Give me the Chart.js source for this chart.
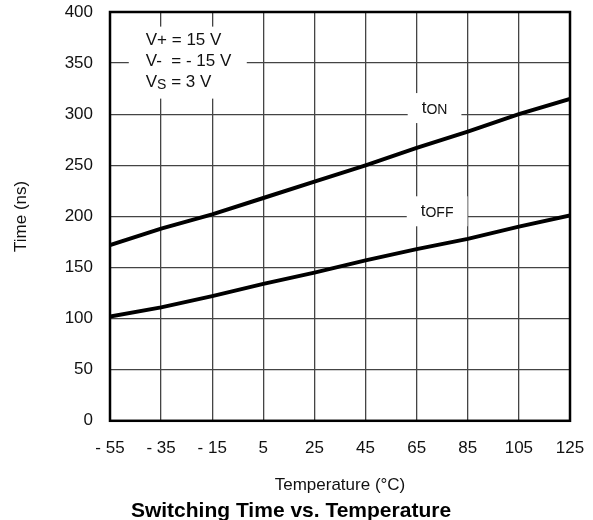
<!DOCTYPE html>
<html>
<head>
<meta charset="utf-8">
<script src="https://cdn.jsdelivr.net/npm/chart.js@4/dist/chart.umd.min.js"></script>
<style>
  html, body { margin: 0; padding: 0; background: #fff; }
  #wrap { width: 593px; height: 520px; }
</style>
</head>
<body>
<div id="wrap"><canvas id="chart"></canvas></div>
<script>
// values
var temps = [-55, -35, -15, 5, 25, 45, 65, 85, 105, 125];
var tOn = [172, 188, 202, 218, 234, 250, 267, 283, 300, 315];
var tOff = [102, 111, 122, 134, 145, 157, 168, 178, 190, 201];

var xTicks = [-55, -35, -15, 5, 25, 45, 65, 85, 105, 125];
var yTicks = [0, 50, 100, 150, 200, 250, 300, 350, 400];

// curve labels (anchor in data units)
var curveLabels = [
  { x: 72, y: 306, main: "t", sub: "ON" },
  { x: 73, y: 205, main: "t", sub: "OFF" }
];

var FONT = "'Liberation Sans', Arial, Helvetica, sans-serif";

function toPoints(ys) {
  return temps.map(function (t, i) { return { x: t, y: ys[i] }; });
}

var notesPlugin = {
  id: "notes",
  beforeDatasetsDraw: function (chart) {
    var ctx = chart.ctx;
    var xs = chart.scales.x, ys = chart.scales.y;
    ctx.save();

    // test conditions box
    var px = xs.getPixelForValue(-41);
    var py = ys.getPixelForValue(372);
    ctx.fillStyle = "#fff";
    ctx.fillRect(px - 17, py - 14, 118, 72);
    ctx.fillStyle = "#111";
    ctx.textAlign = "left";
    ctx.textBaseline = "middle";
    ctx.font = "17px " + FONT;
    ctx.fillText("V+ = 15 V", px, py);
    ctx.fillText("V-  = - 15 V", px, py + 21);
    var y3 = py + 42;
    ctx.fillText("V", px, y3);
    var w = ctx.measureText("V").width;
    ctx.font = "14px " + FONT;
    ctx.fillText("S", px + w, y3 + 3);
    var w2 = ctx.measureText("S").width;
    ctx.font = "17px " + FONT;
    ctx.fillText(" = 3 V", px + w + w2, y3);

    // curve labels
    curveLabels.forEach(function (l) {
      var cx = xs.getPixelForValue(l.x);
      var cy = ys.getPixelForValue(l.y);
      ctx.font = "17px " + FONT;
      var mw = ctx.measureText(l.main).width;
      ctx.font = "14px " + FONT;
      var sw = ctx.measureText(l.sub).width;
      var tw = mw + sw;
      ctx.fillStyle = "#fff";
      ctx.fillRect(cx - tw / 2 - 14, cy - 15, tw + 28, 30);
      ctx.fillStyle = "#111";
      ctx.font = "17px " + FONT;
      ctx.fillText(l.main, cx - tw / 2, cy);
      ctx.font = "14px " + FONT;
      ctx.fillText(l.sub, cx - tw / 2 + mw, cy + 2);
    });
    ctx.restore();
  },
  afterDraw: function (chart) {
    var a = chart.chartArea, ctx = chart.ctx;
    ctx.save();
    ctx.strokeStyle = "#000";
    ctx.lineWidth = 2.5;
    ctx.strokeRect(a.left, a.top, a.right - a.left, a.bottom - a.top);
    ctx.restore();
  }
};

Chart.defaults.font.family = FONT;
Chart.defaults.font.size = 17;
Chart.defaults.color = "#111";

new Chart(document.getElementById("chart"), {
  type: "line",
  data: {
    datasets: [
      {
        label: "tON",
        data: toPoints(tOn),
        borderColor: "#000",
        borderWidth: 4,
        pointRadius: 0,
        tension: 0
      },
      {
        label: "tOFF",
        data: toPoints(tOff),
        borderColor: "#000",
        borderWidth: 4,
        pointRadius: 0,
        tension: 0
      }
    ]
  },
  options: {
    responsive: true,
    maintainAspectRatio: false,
    animation: false,
    layout: { padding: { left: 12, right: 23, top: 12, bottom: 0 } },
    plugins: {
      legend: { display: false },
      tooltip: { enabled: false },
      title: {
        display: true,
        position: "bottom",
        text: "Switching Time vs. Temperature",
        font: { size: 21, weight: "bold" },
        color: "#000",
        padding: { top: 6, bottom: -4 }
      }
    },
    scales: {
      x: {
        type: "linear",
        min: -55,
        max: 125,
        afterBuildTicks: function (s) { s.ticks = xTicks.map(function (v) { return { value: v }; }); },
        afterFit: function (s) { s.height = 72; s.paddingLeft = 0; s.paddingRight = 0; },
        grid: { color: "#444", lineWidth: 1.3, drawTicks: false },
        border: { display: false },
        ticks: {
          padding: 17,
          maxRotation: 0,
          callback: function (v) { return v < 0 ? "- " + Math.abs(v) : String(v); }
        },
        title: {
          display: true,
          text: "Temperature (°C)",
          font: { size: 17 },
          padding: { top: 4, bottom: -3 }
        }
      },
      y: {
        min: 0,
        max: 400,
        afterBuildTicks: function (s) { s.ticks = yTicks.map(function (v) { return { value: v }; }); },
        afterFit: function (s) { s.width = 98; s.paddingTop = 0; s.paddingBottom = 0; },
        grid: { color: "#444", lineWidth: 1.3, drawTicks: false },
        border: { display: false },
        ticks: { padding: 17 },
        title: {
          display: true,
          text: "Time (ns)",
          font: { size: 17 },
          padding: { top: -1, bottom: 0 }
        }
      }
    }
  },
  plugins: [notesPlugin]
});
</script>
</body>
</html>
